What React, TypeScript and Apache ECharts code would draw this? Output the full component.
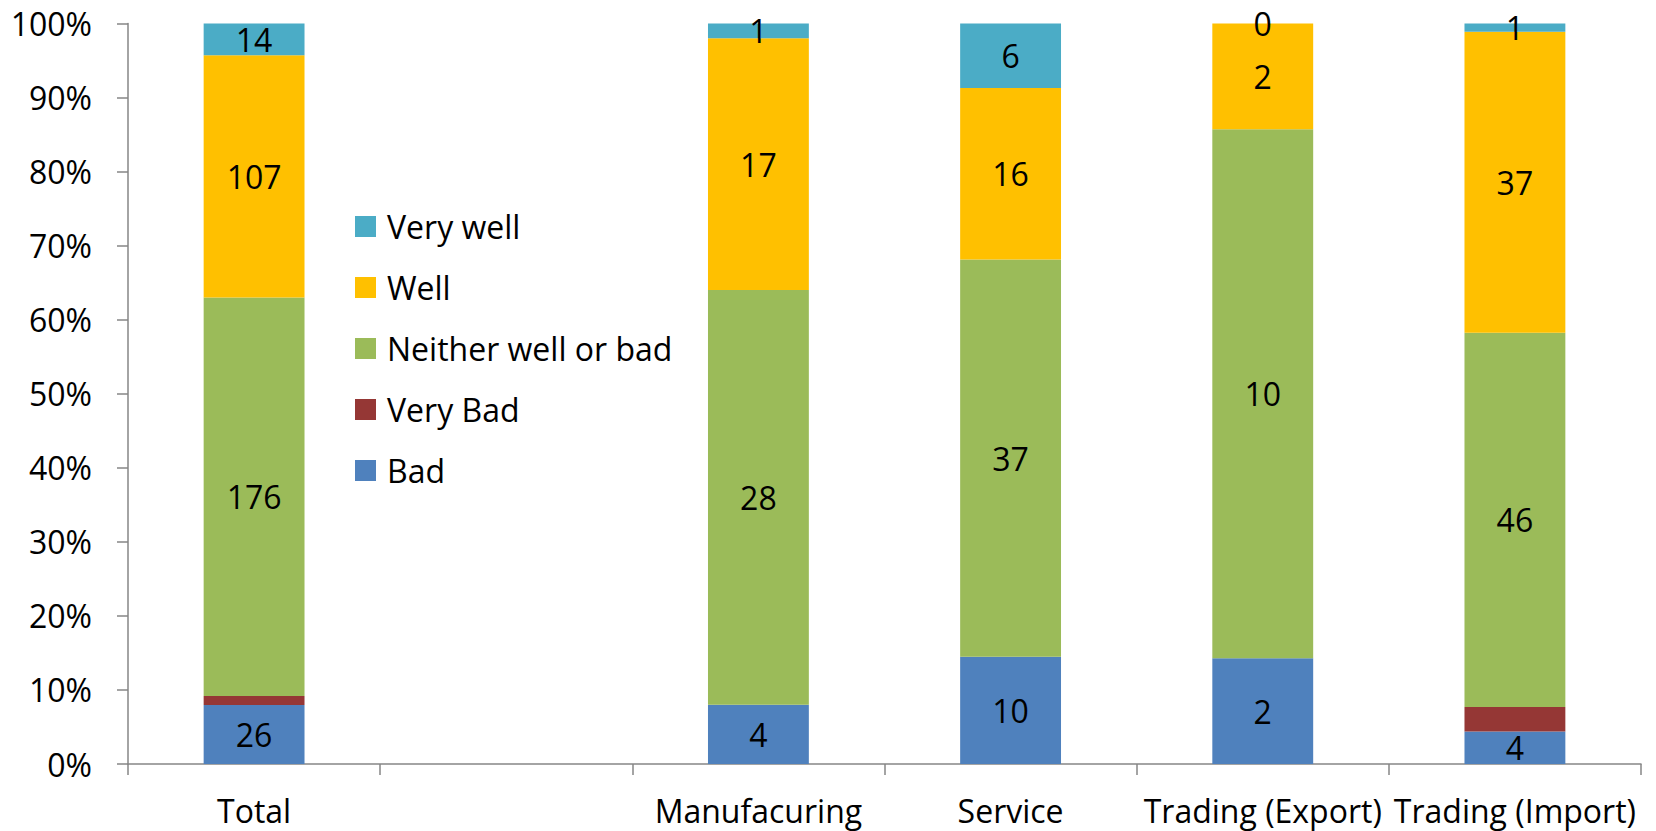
import React, { useEffect, useRef } from "react";
import * as echarts from "echarts";

const categories = ["Total", "", "Manufacuring", "Service", "Trading (Export)", "Trading (Import)"];
const bad = [26, null, 4, 10, 2, 4];
const veryBad = [4, null, 0, 0, 0, 3];
const neither = [176, null, 28, 37, 10, 46];
const well = [107, null, 17, 16, 2, 37];
const veryWell = [14, null, 1, 6, 0, 1];
const yTicks = [0, 10, 20, 30, 40, 50, 60, 70, 80, 90, 100];

const FONT = "Open Sans";

export default function App() {
  const ref = useRef<HTMLDivElement>(null);
  useEffect(() => {
    if (!ref.current) return;
    const chart = echarts.init(ref.current, null, { renderer: "svg" });
    const totals = categories.map((_, i) => {
      const vals = [bad[i], veryBad[i], neither[i], well[i], veryWell[i]];
      if (vals.every((v) => v === null)) return null;
      return vals.reduce((a: number, v) => a + (v ?? 0), 0);
    });
    const pct = (arr: (number | null)[]) =>
      arr.map((v, i) => (v === null || totals[i] === null ? "-" : (v / (totals[i] as number)) * 100));
    const mk = (name: string, arr: (number | null)[], color: string, showLabel: boolean) => ({
      name,
      type: "bar",
      stack: "s",
      barWidth: "40%",
      data: pct(arr),
      itemStyle: { color },
      label: {
        show: showLabel,
        position: "inside",
        color: "#000",
        fontFamily: FONT,
        fontSize: 32,
        formatter: (p: any) => String(arr[p.dataIndex]),
      },
    });
    chart.setOption({
      animation: false,
      backgroundColor: "#fff",
      grid: { left: 128, right: 15, top: 23.5, bottom: 67 },
      legend: {
        orient: "vertical",
        left: 355,
        top: 210.5,
        padding: 0,
        itemWidth: 21,
        itemHeight: 21,
        itemGap: 29,
        icon: "rect",
        data: ["Very well", "Well", "Neither well or bad", "Very Bad", "Bad"],
        textStyle: { fontFamily: FONT, fontSize: 32, lineHeight: 31, color: "#000", padding: [0, 0, 0, 6] },
      },
      xAxis: {
        type: "category",
        data: categories,
        axisLine: { lineStyle: { color: "#868686", width: 1.5 } },
        axisTick: { show: true, length: 11, interval: 0, lineStyle: { color: "#868686", width: 1.5 } },
        axisLabel: { interval: 0, margin: 30, color: "#000", fontFamily: FONT, fontSize: 32 },
        splitLine: { show: false },
      },
      yAxis: {
        type: "value",
        min: yTicks[0],
        max: yTicks[yTicks.length - 1],
        interval: 10,
        axisLine: { show: true, lineStyle: { color: "#868686", width: 1.5 } },
        axisTick: { show: true, length: 11, lineStyle: { color: "#868686", width: 1.5 } },
        axisLabel: { margin: 36, color: "#000", fontFamily: FONT, fontSize: 32, formatter: "{value}%" },
        splitLine: { show: false },
      },
      series: [
        mk("Bad", bad, "#4F81BD", true),
        mk("Very Bad", veryBad, "#953735", false),
        mk("Neither well or bad", neither, "#9BBB59", true),
        mk("Well", well, "#FFC000", true),
        mk("Very well", veryWell, "#4BACC6", true),
      ],
    });
    return () => chart.dispose();
  }, []);
  return (
    <div
      ref={ref}
      style={{ position: "fixed", left: 0, top: 0, width: "1656px", height: "831px" }}
    />
  );
}
